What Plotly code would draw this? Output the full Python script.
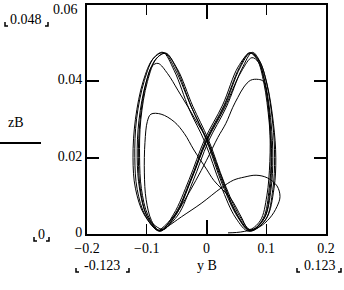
import plotly.graph_objects as go

# ---- data (yB horizontal, zB vertical) ----
# start and first small swing (hump on the right)
y_start = [0.036, 0.050, 0.064, 0.088, 0.106, 0.118, 0.123, 0.118, 0.102, 0.083, 0.063, 0.045, 0.024, -0.009, -0.042, -0.065, -0.079]
z_start = [0.0003, 0.0004, 0.0007, 0.0018, 0.0042, 0.0072, 0.0098, 0.0126, 0.0147, 0.0154, 0.0149, 0.0141, 0.0120, 0.0080, 0.0045, 0.0020, 0.0009]

# left swing to 0.031, diagonal down to the right
y_sw2 = [-0.092, -0.101, -0.104, -0.103, -0.099, -0.093, -0.076, -0.054, -0.037, -0.021, 0.000, 0.0125, 0.041, 0.058, 0.071]
z_sw2 = [0.0035, 0.0090, 0.0160, 0.0240, 0.0295, 0.0314, 0.0314, 0.0294, 0.0263, 0.0220, 0.0170, 0.0140, 0.0092, 0.0045, 0.0012]

# right swing to 0.0405, diagonal down to the left
y_sw3 = [0.090, 0.101, 0.106, 0.106, 0.102, 0.095, 0.087, 0.074, 0.0625, 0.0525, 0.044, 0.0325, 0.019, 0.000, -0.018, -0.036, -0.056, -0.072]
z_sw3 = [0.0035, 0.0100, 0.0190, 0.0280, 0.0355, 0.0400, 0.0405, 0.0403, 0.0385, 0.0358, 0.0332, 0.0290, 0.0253, 0.0193, 0.0140, 0.0090, 0.0040, 0.0012]

# nearly full swing (left top 0.0447, right top 0.046)
y_sw4 = [-0.097, -0.110, -0.114, -0.111, -0.102, -0.091, -0.081, -0.065, -0.048, -0.031, -0.015, 0.000, 0.025, 0.048, 0.072,
         0.096, 0.106, 0.109, 0.106, 0.097, 0.087, 0.076, 0.058, 0.030, 0.000, -0.026, -0.052, -0.078]
z_sw4 = [0.0040, 0.0110, 0.0200, 0.0300, 0.0390, 0.0440, 0.0447, 0.0420, 0.0377, 0.0333, 0.0290, 0.0250, 0.0150, 0.0060, 0.0010,
         0.0040, 0.0110, 0.0200, 0.0300, 0.0400, 0.0450, 0.0462, 0.0425, 0.0330, 0.0242, 0.0140, 0.0048, 0.0008]

# steady cycles
y_cyc1 = [-0.104, -0.119, -0.123, -0.119, -0.106, -0.089, -0.071, -0.052, -0.026, 0.000, 0.027, 0.052, 0.073,
          0.100, 0.113, 0.116, 0.112, 0.101, 0.088, 0.074, 0.056, 0.030, 0.000, -0.026, -0.052, -0.080]
z_cyc1 = [0.0050, 0.0120, 0.0200, 0.0300, 0.0400, 0.0460, 0.0475, 0.0430, 0.0335, 0.0245, 0.0128, 0.0045, 0.0008,
          0.0040, 0.0120, 0.0200, 0.0290, 0.0395, 0.0455, 0.0475, 0.0435, 0.0335, 0.0245, 0.0142, 0.0052, 0.0010]

y_cyc2 = [-0.100, -0.112, -0.116, -0.113, -0.101, -0.085, -0.069, -0.049, -0.023, 0.003, 0.030, 0.055, 0.075,
          0.097, 0.108, 0.111, 0.108, 0.098, 0.086, 0.073, 0.053, 0.027, -0.003, -0.029, -0.055, -0.078]
z_cyc2 = [0.0048, 0.0118, 0.0200, 0.0298, 0.0398, 0.0458, 0.0473, 0.0433, 0.0335, 0.0248, 0.0133, 0.0048, 0.0010,
          0.0042, 0.0118, 0.0200, 0.0292, 0.0398, 0.0457, 0.0474, 0.0438, 0.0338, 0.0248, 0.0143, 0.0052, 0.0007]

y_cyc3 = [-0.102, -0.116, -0.120, -0.117, -0.104, -0.088, -0.073, -0.054, -0.029, -0.003, 0.024, 0.049, 0.071,
          0.099, 0.111, 0.114, 0.111, 0.101, 0.089, 0.077, 0.059, 0.033, 0.003, -0.023, -0.049, -0.079]
z_cyc3 = [0.0047, 0.0117, 0.0200, 0.0302, 0.0402, 0.0462, 0.0476, 0.0428, 0.0327, 0.0242, 0.0127, 0.0042, 0.0007,
          0.0038, 0.0117, 0.0200, 0.0288, 0.0393, 0.0453, 0.0476, 0.0432, 0.0332, 0.0242, 0.0137, 0.0047, 0.0009]

y_cyc4 = [-0.098, -0.109, -0.112, -0.110, -0.099, -0.084, -0.068, -0.050, -0.025, 0.001, 0.028, 0.053, 0.074,
          0.095, 0.105, 0.108, 0.105, 0.096, 0.085, 0.072, 0.055, 0.029, -0.001, -0.027, -0.053, -0.079]
z_cyc4 = [0.0049, 0.0119, 0.0200, 0.0299, 0.0399, 0.0459, 0.0474, 0.0432, 0.0332, 0.0246, 0.0131, 0.0046, 0.0009,
          0.0041, 0.0119, 0.0200, 0.0291, 0.0396, 0.0456, 0.0475, 0.0436, 0.0336, 0.0246, 0.0141, 0.0051, 0.0009]

x_ticks = [-0.2, -0.1, 0, 0.1, 0.2]
x_tick_text = ["\u22120.2", "\u22120.1", "0", "0.1", "0.2"]
y_ticks = [0, 0.02, 0.04, 0.06]
y_tick_text = ["0", "0.02", "0.04", ""]   # top label "0.06" drawn as annotation (kept inside page)
y_top_label = "0.06"

yB = y_start + y_sw2 + y_sw3 + y_sw4 + y_cyc1 + y_cyc2 + y_cyc3 + y_cyc4
zB = z_start + z_sw2 + z_sw3 + z_sw4 + z_cyc1 + z_cyc2 + z_cyc3 + z_cyc4

# ---- layout helpers (pixel -> paper) ----
W, H = 344, 290
L, R, T, B = 87, 326, 5, 234


def px(x):
    return (x - L) / (R - L)


def py(y):
    return (B - y) / (B - T)


FONT = dict(family="Liberation Serif, Times New Roman, serif", size=14, color="black")

fig = go.Figure()
fig.add_trace(go.Scatter(x=yB, y=zB, mode="lines",
                         line=dict(color="black", width=1.0, shape="spline", smoothing=1.0),
                         hoverinfo="skip", showlegend=False))
# empty trace so the overlay axis (heavier 0 tick) is drawn
fig.add_trace(go.Scatter(x=[], y=[], xaxis="x2", yaxis="y", mode="lines",
                         hoverinfo="skip", showlegend=False))

fig.update_layout(
    width=W, height=H,
    margin=dict(l=L, r=W - R, t=T, b=H - B, autoexpand=False),
    paper_bgcolor="white", plot_bgcolor="white",
    font=FONT, showlegend=False,
    xaxis=dict(range=[-0.2, 0.2], tickmode="array", tickvals=x_ticks, ticktext=x_tick_text,
               ticks="inside", ticklen=10, tickwidth=1, ticklabeloverflow="allow",
               tickcolor="black", showline=True, linecolor="black", linewidth=2, mirror="ticks",
               showgrid=False, zeroline=False, tickfont=FONT, automargin=False),
    xaxis2=dict(range=[-0.2, 0.2], overlaying="x", side="bottom", tickmode="array", tickvals=[0],
                ticks="inside", ticklen=14, tickwidth=2, showticklabels=False,
                tickcolor="black", showline=True, linecolor="black", linewidth=2, mirror="ticks",
                showgrid=False, zeroline=False, automargin=False),
    yaxis=dict(range=[0, 0.06], tickmode="array", tickvals=y_ticks, ticktext=y_tick_text,
               ticks="inside", ticklen=12, tickwidth=2, ticklabeloverflow="allow", ticklabelshift=-2,
               tickcolor="black", showline=True, linecolor="black", linewidth=2, mirror="ticks",
               showgrid=False, zeroline=False, tickfont=FONT, automargin=False),
)

# top y tick label, placed just inside the page
fig.add_annotation(text=y_top_label, x=px(80), y=py(9), xref="paper", yref="paper",
                   showarrow=False, xanchor="right", yanchor="middle", font=FONT)

labels = [
    ("0.048", 26, 19),
    ("0", 41, 235),
    ("zB", 16, 122),
    ("-0.123", 102, 265),
    ("y B", 207, 265),
    ("0.123", 320, 265),
]
for txt, cx, cy in labels:
    fig.add_annotation(text=txt, x=px(cx), y=py(cy), xref="paper", yref="paper",
                       showarrow=False, xanchor="center", yanchor="middle", font=FONT)

# line under zB
fig.add_shape(type="line", xref="paper", yref="paper", x0=px(0), x1=px(41), y0=py(143), y1=py(143),
              line=dict(color="black", width=2))

# small corner brackets around placeholder labels (left x, right x, bottom y)
brackets = [(5, 48, 26), (34, 49, 241), (76, 129, 272), (297, 341, 272)]
for xl, xr, yb in brackets:
    fig.add_shape(type="path", xref="paper", yref="paper",
                  path=f"M {px(xl)},{py(yb - 4)} L {px(xl)},{py(yb)} L {px(xl + 3)},{py(yb)}",
                  line=dict(color="black", width=1.5))
    fig.add_shape(type="path", xref="paper", yref="paper",
                  path=f"M {px(xr)},{py(yb - 4)} L {px(xr)},{py(yb)} L {px(xr - 3)},{py(yb)}",
                  line=dict(color="black", width=1.5))

fig.write_html("out.html", config={"displayModeBar": False},
               post_script="document.body.style.margin='0';")
